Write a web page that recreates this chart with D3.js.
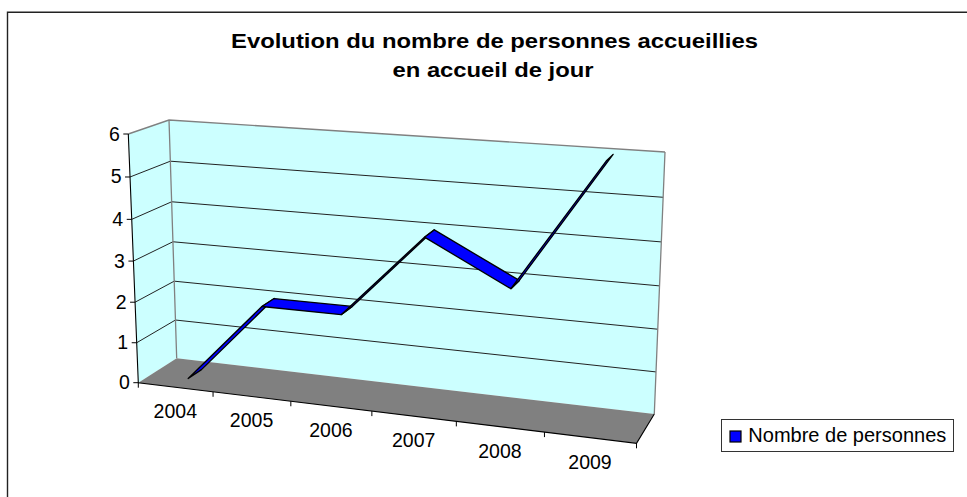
<!DOCTYPE html>
<html><head><meta charset="utf-8">
<script src="https://cdn.jsdelivr.net/npm/d3@7"></script>
<style>html,body{margin:0;background:#fff}svg{display:block}text{font-family:"Liberation Sans",Arial,sans-serif;fill:#000}</style>
</head><body><svg id="c" width="967" height="497"></svg>
<script>
const categories=["2004","2005","2006","2007","2008","2009"];
const values=[0,2,2,4,3,6];
const valueTicks=[0,1,2,3,4,5,6];
const titleLines=["Evolution du nombre de personnes accueillies","en accueil de jour"];
const seriesName="Nombre de personnes";

const svg=d3.select("#c");
const frontBottomL=[138.3,382.7],frontTopL=[128.3,134],backBottomL=[176.7,358.3],backTopL=[169,120];
const backTopR=[665,152],backBottomR=[654.3,414],frontBottomR=[636.5,443.3],frontTopR=[648,171];
const lerp=(a,b,t)=>[a[0]+(b[0]-a[0])*t,a[1]+(b[1]-a[1])*t];
const persp=(u,k)=>u/(u+(1-u)*k);
const band=d3.scaleBand().domain(categories).range([0,1]);
const vy=d3.scaleLinear().domain([0,6]).range([0,1]);
function project(u,v,d){
  const U=persp(u,1.133),V=persp(v,1.045);
  const fb=lerp(frontBottomL,frontBottomR,U),ft=lerp(frontTopL,frontTopR,U);
  const bb=lerp(backBottomL,backBottomR,U),bt=lerp(backTopL,backTopR,U);
  return lerp(lerp(fb,ft,V),lerp(bb,bt,V),d);
}
const line=d3.line();
// frame: top and left edges only
svg.append("path").attr("fill","none").attr("stroke","#222").attr("stroke-width",1.4).attr("d","M7.5,497V12.2H967");
// walls
svg.append("path").attr("d",line([project(0,0,0),project(0,1,0),project(0,1,1),project(0,0,1)])+"Z").attr("fill","#ccffff");
svg.append("path").attr("d",line([project(0,0,1),project(0,1,1),project(1,1,1),project(1,0,1)])+"Z").attr("fill","#ccffff");
svg.append("path").attr("d",line([project(0,0,0),project(0,0,1),project(1,0,1),project(1,0,0)])+"Z").attr("fill","#808080");
// gridlines
valueTicks.slice(1).forEach(t=>{
  const v=vy(t);
  const stroke=t===6?"#808080":"#222";
  svg.append("path").attr("fill","none").attr("stroke",stroke).attr("stroke-width",t===6?1.4:1)
    .attr("d",line([project(0,v,0),project(0,v,1),project(1,v,1)]));
});
// wall edges
svg.append("path").attr("fill","none").attr("stroke","#808080").attr("stroke-width",1.3)
  .attr("d",line([project(0,0,1),project(0,1,1)])+line([project(1,1,1),project(1,0,1)]));
// axes
svg.append("path").attr("fill","none").attr("stroke","#000").attr("stroke-width",1.1)
  .attr("d",line([project(0,1,0),project(0,0,0),project(1,0,0),project(1,0,1)]));
valueTicks.forEach(t=>{
  const p=project(0,vy(t),0);
  svg.append("path").attr("stroke","#000").attr("d",line([[p[0]-5,p[1]],p]));
  svg.append("text").attr("x",p[0]-8.5).attr("y",p[1]+6.5).attr("text-anchor","end").attr("font-size",19.5).text(t);
});
svg.append("path").attr("stroke","#000").attr("d",line([project(0,0,0),[project(0,0,0)[0],project(0,0,0)[1]+5]]));
band.domain().forEach((c,i)=>{
  const u=(i+1)/6, p=project(u,0,0);
  svg.append("path").attr("stroke","#000").attr("d",line([p,[p[0],p[1]+5]]));
});
band.domain().forEach(c=>{
  const p=project(band(c)+band.bandwidth()/2,0,0);
  svg.append("text").attr("x",p[0]).attr("y",p[1]+31).attr("text-anchor","middle").attr("font-size",19.5).text(c);
});
// ribbon
const d0=0.35,d1=0.71;
for(let i=0;i<values.length-1;i++){
  const u0=band(categories[i])+band.bandwidth()/2,u1=band(categories[i+1])+band.bandwidth()/2;
  const v0=vy(values[i]),v1=vy(values[i+1]);
  svg.append("path").attr("fill","#0000ff").attr("stroke","#000").attr("stroke-width",1.3).attr("stroke-linejoin","round")
    .attr("d",line([project(u0,v0,d0),project(u0,v0,d1),project(u1,v1,d1),project(u1,v1,d0)])+"Z");
}
// title
const titleX=[494.5,493],titleY=[48.3,77],titleW=[527,201];
titleLines.forEach((t,i)=>svg.append("text").attr("x",titleX[i]).attr("y",titleY[i]).attr("text-anchor","middle").attr("font-size",20.5).attr("font-weight","bold").attr("textLength",titleW[i]).attr("lengthAdjust","spacingAndGlyphs").text(t));
// legend
svg.append("rect").attr("x",721.5).attr("y",419.5).attr("width",232).attr("height",32).attr("fill","#fff").attr("stroke","#333");
svg.append("rect").attr("x",730).attr("y",431).attr("width",11).attr("height",11).attr("fill","#0000ff").attr("stroke","#000").attr("stroke-width",1.2);
svg.append("text").attr("x",748.3).attr("y",442.3).attr("font-size",20).attr("textLength",198).attr("lengthAdjust","spacingAndGlyphs").text(seriesName);
</script></body></html>
